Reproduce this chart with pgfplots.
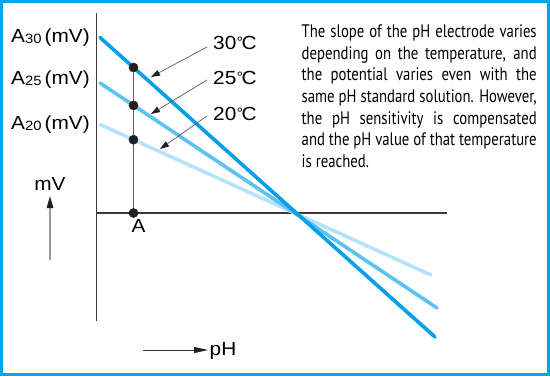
\documentclass[border=0pt]{standalone}
\usepackage{fontspec}
\usepackage{graphicx}
\usepackage{pgfplots}
\pgfplotsset{compat=1.18}
\usetikzlibrary{arrows.meta}
\setmainfont{Liberation Sans}
\newfontfamily\labfont[FakeStretch=1.1]{Liberation Sans}
\newfontfamily\bodyfont{PT Sans}
\definecolor{c30}{HTML}{00A0E9}
\definecolor{c25}{HTML}{5CC3F0}
\definecolor{c20}{HTML}{B7E3F9}
\definecolor{framec}{HTML}{00A7E8}
\definecolor{dotc}{HTML}{231F20}
\definecolor{axc}{HTML}{3A3A3A}
\newsavebox\lineA
\newsavebox\lineB
\newsavebox\lineC
\newcommand\bodysize{\bodyfont\fontsize{18.2}{21.8}\selectfont}
\newcommand\lab[1]{{\labfont\fontsize{19}{19}\selectfont #1}}
\newcommand\sub[1]{\raisebox{-1bp}{\fontsize{13.5}{13.5}\selectfont #1}}
\newcommand\degC{\kern0.3bp{\fontsize{15}{15}\selectfont\raisebox{2bp}{°}}\kern-1.6bp C}
\begin{document}
\sbox\lineA{\bodysize The slope of the pH electrode varies}%
\sbox\lineB{\bodysize same pH standard solution. However,}%
\sbox\lineC{\bodysize and the pH value of that temperature}%
\pgfmathsetlengthmacro\refw{max(\wd\lineA,\wd\lineB,\wd\lineC)}%
\pgfmathsetmacro\bodyscale{235.88/\refw}%
\newcommand\bl[1]{\makebox[\refw][s]{#1}}%
\begin{tikzpicture}
\begin{axis}[at={(0,0)},anchor=south west,
  width=550bp,height=376bp,scale only axis,
  xmin=0,xmax=550,ymin=0,ymax=376,y dir=reverse,
  hide axis,clip=false]
% frame
\draw[framec,line width=3bp] (axis cs:1.5,1.5) rectangle (axis cs:548.5,374.5);
% axes
\draw[axc,line width=1.1bp] (axis cs:96.7,13) -- (axis cs:96.7,321);
\draw[axc,line width=1.1bp] (axis cs:96.7,213) -- (axis cs:447,213);
\draw[gray!75!black,line width=1.2bp] (axis cs:133.5,67.5) -- (axis cs:133.5,213);
% temperature lines
\addplot[c20,line width=3.6bp,line cap=round] coordinates {(100,124.5) (431,275)};
\addplot[c25,line width=3.6bp,line cap=round] coordinates {(100,83) (437,308)};
\addplot[c30,line width=3.6bp,line cap=round] coordinates {(100,37.5) (435,337)};
% dots
\addplot[only marks,mark=*,mark size=4.6bp,color=dotc] coordinates {(133.5,67.5) (133.5,105.4) (133.5,139.7) (133.5,213)};
% annotation arrows
\draw[gray!70!black,line width=0.7bp,-{Triangle[length=9bp,width=6bp,color=dotc]}] (axis cs:207,47) -- (axis cs:151,77);
\draw[gray!70!black,line width=0.7bp,-{Triangle[length=9bp,width=6bp,color=dotc]}] (axis cs:207,80) -- (axis cs:151,114);
\draw[gray!70!black,line width=0.7bp,-{Triangle[length=9bp,width=6bp,color=dotc]}] (axis cs:207,116) -- (axis cs:160,149);
\node[anchor=base west,inner sep=0pt] at (axis cs:213,49) {\lab{30\degC}};
\node[anchor=base west,inner sep=0pt] at (axis cs:213,84.5) {\lab{25\degC}};
\node[anchor=base west,inner sep=0pt] at (axis cs:213,120) {\lab{20\degC}};
% left labels
\node[anchor=base west,inner sep=0pt] at (axis cs:11,42.5) {\lab{A\sub{30}\,(mV)}};
\node[anchor=base west,inner sep=0pt] at (axis cs:11,84) {\lab{A\sub{25}\,(mV)}};
\node[anchor=base west,inner sep=0pt] at (axis cs:11,129) {\lab{A\sub{20}\,(mV)}};
\node[anchor=base,inner sep=0pt] at (axis cs:50,190) {\lab{mV}};
\draw[gray!80,line width=1.4bp,-{Triangle[length=12bp,width=6.5bp,color=dotc]}] (axis cs:50,260) -- (axis cs:50,196);
\node[anchor=base,inner sep=0pt] at (axis cs:138.5,232.5) {\lab{A}};
\draw[axc,line width=0.8bp,-{Triangle[length=14bp,width=6bp,color=dotc]}] (axis cs:143,350) -- (axis cs:208,350);
\node[anchor=base west,inner sep=0pt] at (axis cs:209.5,355.5) {\lab{pH}};
% text block
\node[anchor=base west,inner sep=0pt] at (axis cs:301.5,37.3) {\scalebox{\bodyscale}[1]{\parbox[t]{\refw}{\bodysize
\bl{The slope of the pH electrode varies}\\
\bl{depending on the temperature, and}\\
\bl{the potential varies even with the}\\
\bl{same pH standard solution. However,}\\
\bl{the pH sensitivity is compensated}\\
\bl{and the pH value of that temperature}\\
is reached.}}};
\end{axis}
\end{tikzpicture}
\end{document}
